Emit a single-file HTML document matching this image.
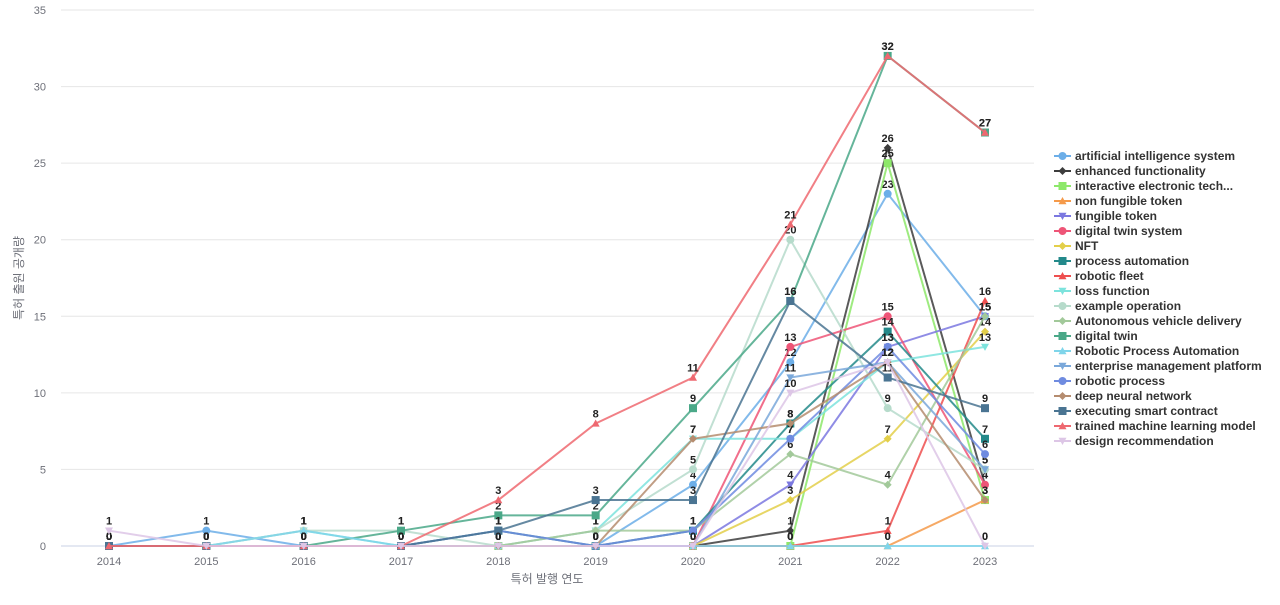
<!DOCTYPE html>
<html><head><meta charset="utf-8"><style>
body{margin:0;background:#fff;font-family:"Liberation Sans","Noto Sans CJK KR",sans-serif}
svg text{font-family:"Liberation Sans","Noto Sans CJK KR",sans-serif}
</style></head><body>
<svg id="c" width="1280" height="600"></svg>
<script>
const years=[2014,2015,2016,2017,2018,2019,2020,2021,2022,2023];
const yTicks=[0,5,10,15,20,25,30,35];
const names=["artificial intelligence system","enhanced functionality","interactive electronic tech...","non fungible token","fungible token","digital twin system","NFT","process automation","robotic fleet","loss function","example operation","Autonomous vehicle delivery","digital twin","Robotic Process Automation","enterprise management platform","robotic process","deep neural network","executing smart contract","trained machine learning model","design recommendation"];
const colors=["#6caee8","#3d3d3d","#8de86a","#f59a4a","#7b78e0","#ee5577","#e3cf4a","#23898a","#ee4f4f","#7de3dd","#b6dbcb","#a2c99a","#4aa888","#7fd5ea","#7aa8da","#6f8be0","#b58c6f","#4a7492","#ee6870","#ddc6e6"];
const shapes=["circle","diamond","square","triangle","down","circle","diamond","square","triangle","down","circle","diamond","square","triangle","down","circle","diamond","square","triangle","down"];
const s0=[0,1,0,0,0,0,4,12,23,15];
const s1=[0,0,0,0,0,0,0,1,26,4];
const s2=[0,0,0,0,0,0,0,0,25,3];
const s3=[0,0,0,0,0,0,0,0,0,3];
const s4=[0,0,0,0,0,0,0,4,13,15];
const s5=[0,0,0,0,0,0,0,13,15,4];
const s6=[0,0,0,0,0,0,0,3,7,14];
const s7=[0,0,0,0,1,0,1,8,14,7];
const s8=[0,0,0,0,0,0,0,0,1,16];
const s9=[0,0,1,0,0,1,7,7,12,13];
const s10=[0,0,1,1,0,1,5,20,9,5];
const s11=[0,0,0,0,0,1,1,6,4,15];
const s12=[0,0,0,1,2,2,9,16,32,27];
const s13=[0,0,1,0,0,0,0,0,0,0];
const s14=[0,0,0,0,0,0,0,11,12,5];
const s15=[0,0,0,0,1,0,1,7,13,6];
const s16=[0,0,0,0,0,0,7,8,12,3];
const s17=[0,0,0,0,1,3,3,16,11,9];
const s18=[0,0,0,0,3,8,11,21,32,27];
const s19=[1,0,0,0,0,0,0,10,12,0];
const series=[s0,s1,s2,s3,s4,s5,s6,s7,s8,s9,s10,s11,s12,s13,s14,s15,s16,s17,s18,s19];
const X0=109,X1=985,Y0=546,Y1=10,YMAX=35;
const xs=i=>X0+(X1-X0)*i/(years.length-1);
const ys=v=>Y0-(Y0-Y1)*v/YMAX;
const svg=document.getElementById('c');const NS="http://www.w3.org/2000/svg";
function mk(t,a,p){const e=document.createElementNS(NS,t);for(const k in a)e.setAttribute(k,a[k]);(p||svg).appendChild(e);return e;}
yTicks.forEach(t=>{
 const l=mk('line',{x1:61,x2:1034,y1:ys(t),y2:ys(t),stroke:t===0?'#c8d0e6':'#e6e6e6','stroke-width':1});
 
 
 const tx=mk('text',{x:46,y:ys(t)+4,'text-anchor':'end','font-size':11,fill:'#6e7079'});tx.textContent=t;
 
 
});
years.forEach((y,i)=>{
 const tx=mk('text',{x:xs(i),y:565,'text-anchor':'middle','font-size':11,fill:'#6e7079'});tx.textContent=y;
 
 
});
let t=mk('text',{x:547,y:583,'text-anchor':'middle','font-size':12,fill:'#6e7079'});t.textContent='특허 발행 연도';


t=mk('text',{x:0,y:0,'text-anchor':'middle','font-size':12,fill:'#6e7079',transform:'translate(23,278) rotate(-90)'});t.textContent='특허 출원 공개량';


function marker(shape,x,y,c,p,sz){sz=sz||4;let e;
 if(shape==='circle')e=mk('circle',{cx:x,cy:y,r:sz,fill:c},p);
 else if(shape==='square')e=mk('rect',{x:x-sz,y:y-sz,width:2*sz,height:2*sz,fill:c},p);
 else if(shape==='diamond')e=mk('polygon',{points:`${x},${y-sz} ${x+sz},${y} ${x},${y+sz} ${x-sz},${y}`,fill:c},p);
 else if(shape==='triangle')e=mk('polygon',{points:`${x},${y-sz} ${x+sz},${y+sz*0.8} ${x-sz},${y+sz*0.8}`,fill:c},p);
 else e=mk('polygon',{points:`${x},${y+sz} ${x+sz},${y-sz*0.8} ${x-sz},${y-sz*0.8}`,fill:c},p);
 return e;}
series.forEach((d,si)=>{
 const g=mk('g',{});
 
 
 const pl=mk('polyline',{points:d.map((v,i)=>xs(i)+','+ys(v)).join(' '),fill:'none',stroke:colors[si],'stroke-width':2,opacity:0.85},g);
 
 
 d.forEach((v,i)=>{
  const m=marker(shapes[si],xs(i),ys(v),colors[si],g);
  
  
  const l=mk('text',{x:xs(i),y:ys(v)-6,'text-anchor':'middle','font-size':11,'font-weight':'bold',fill:'#222'},g);l.textContent=v;
  
  
 });
});
names.forEach((n,i)=>{
 const y=156+i*15;const g=mk('g',{});
 
 
 mk('line',{x1:1054,x2:1071,y1:y,y2:y,stroke:colors[i],'stroke-width':2},g);
 marker(shapes[i],1062.5,y,colors[i],g,4);
 const tx=mk('text',{x:1075,y:y+4,'font-size':12,'font-weight':'bold',fill:'#333'},g);tx.textContent=n;
});
</script>
</body></html>
